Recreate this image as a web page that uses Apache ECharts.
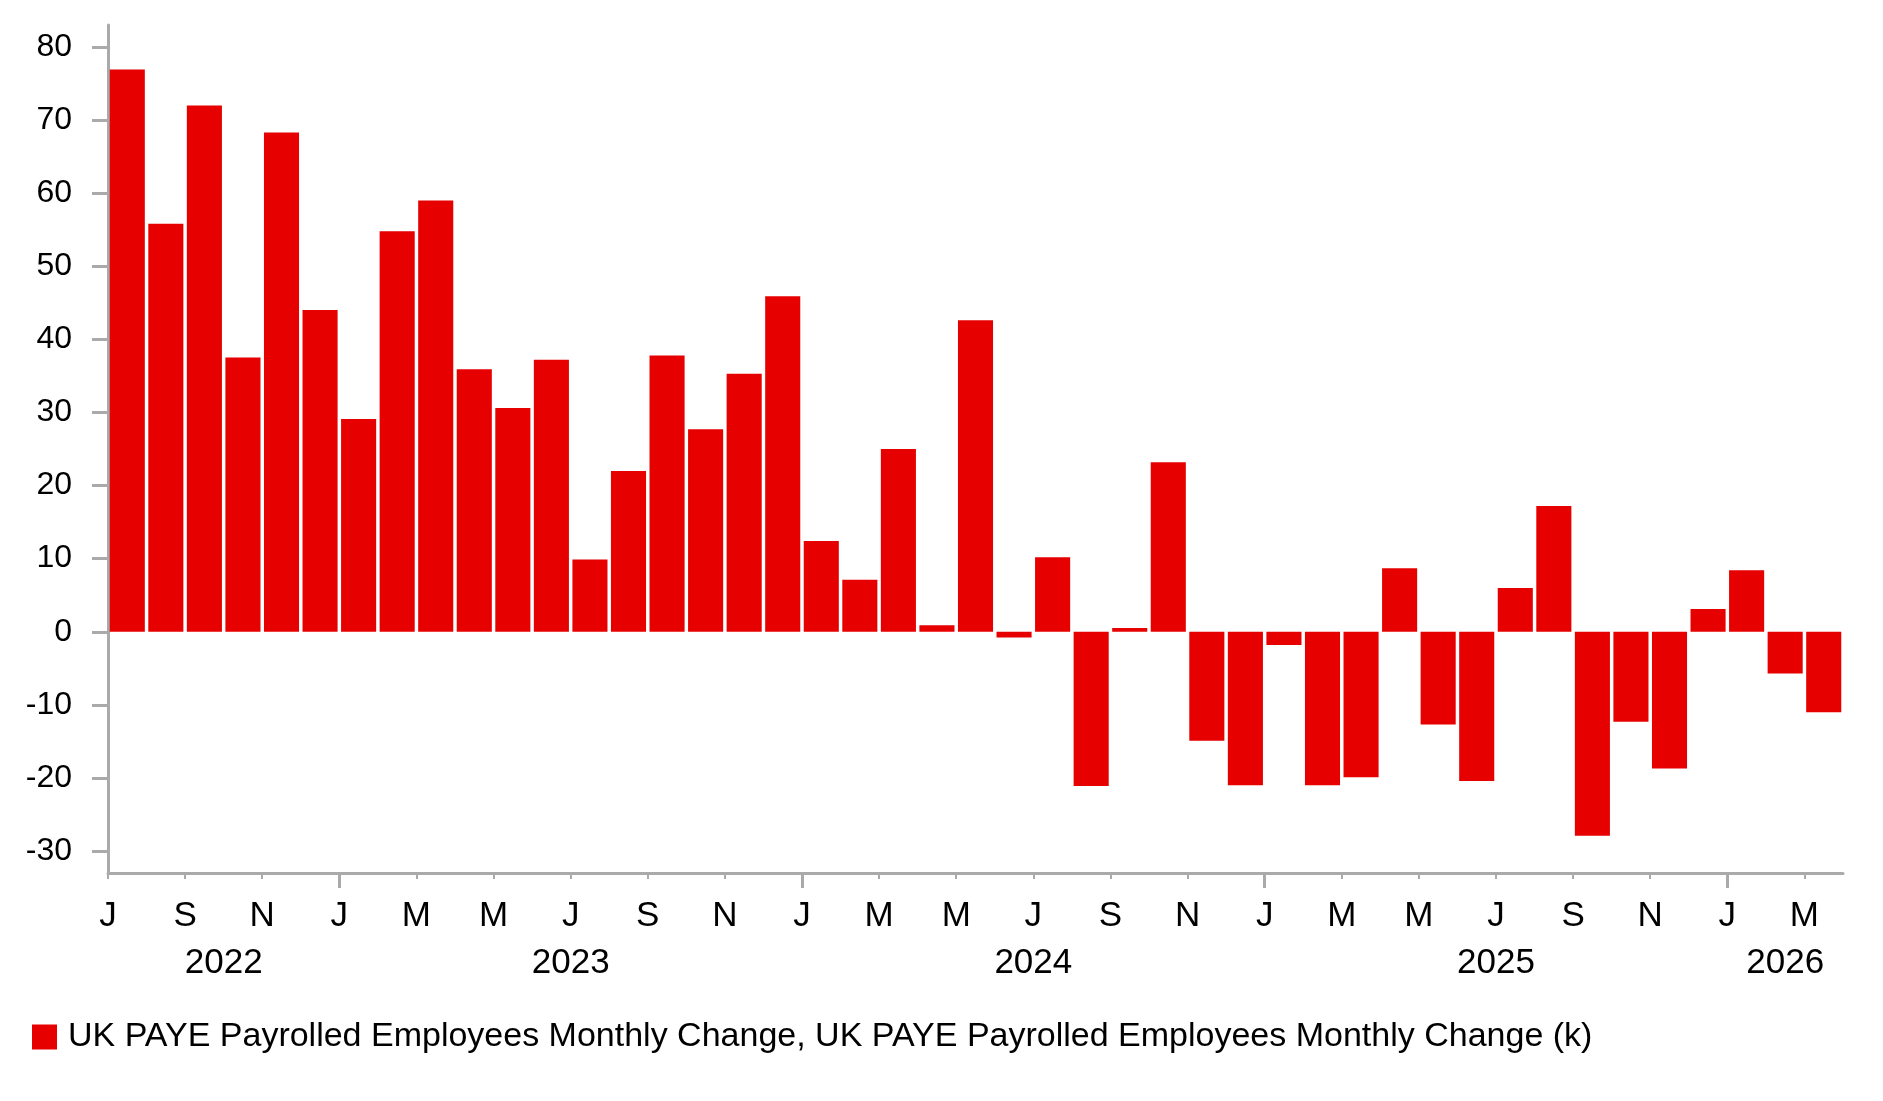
<!DOCTYPE html>
<html>
<head>
<meta charset="utf-8">
<script src="https://cdn.jsdelivr.net/npm/echarts@6/dist/echarts.min.js"></script>
<style>
html,body{margin:0;padding:0;background:#fff;}
#chart{width:1883px;height:1101px;}
</style>
</head>
<body>
<div id="chart"></div>
<script>
// ---- data ----
const months = [
  '2022-07','2022-08','2022-09','2022-10','2022-11','2022-12',
  '2023-01','2023-02','2023-03','2023-04','2023-05','2023-06',
  '2023-07','2023-08','2023-09','2023-10','2023-11','2023-12',
  '2024-01','2024-02','2024-03','2024-04','2024-05','2024-06',
  '2024-07','2024-08','2024-09','2024-10','2024-11','2024-12',
  '2025-01','2025-02','2025-03','2025-04','2025-05','2025-06',
  '2025-07','2025-08','2025-09','2025-10','2025-11','2025-12',
  '2026-01','2026-02','2026-03'
];
const payrollChange = [
  76.9, 55.8, 72.0, 37.5, 68.3, 44.0,
  29.1, 54.8, 59.0, 35.9, 30.6, 37.2,
  9.9, 22.0, 37.8, 27.7, 35.3, 45.9,
  12.4, 7.1, 25.0, 0.9, 42.6, -0.8,
  10.2, -21.1, 0.5, 23.2, -14.9, -21.0,
  -1.8, -21.0, -19.9, 8.7, -12.7, -20.4,
  6.0, 17.2, -27.9, -12.3, -18.7, 3.1,
  8.4, -5.7, -11.0
];
const monthTickLabels = ['J','S','N','J','M','M','J','S','N','J','M','M','J','S','N','J','M','M','J','S','N','J','M'];
const yearLabels = ['2022','2023','2024','2025','2026'];
const yTicks = [-30,-20,-10,0,10,20,30,40,50,60,70,80];
const seriesName = 'UK PAYE Payrolled Employees Monthly Change, UK PAYE Payrolled Employees Monthly Change (k)';

// ---- derived tick positions (month boundaries) ----
const evenIdx = [];
for (let i = 0; i < months.length; i += 2) evenIdx.push(i);
const janIdx = [];
months.forEach((m, i) => { if (m.endsWith('-01')) janIdx.push(i); });
const smallTickIdx = evenIdx.filter(i => janIdx.indexOf(i) < 0);
// year label centers: middle of each year's span of months
const yearCenters = yearLabels.map(y => {
  const idx = [];
  months.forEach((m, i) => { if (m.startsWith(y)) idx.push(i); });
  return (idx[0] + idx[idx.length - 1] + 1) / 2;
});

const FONT = '"Liberation Sans", Arial, sans-serif';
const GREY = '#aaaaaa';

const chart = echarts.init(document.getElementById('chart'), null, {renderer: 'canvas'});
chart.setOption({
  animation: false,
  backgroundColor: '#ffffff',
  textStyle: {fontFamily: FONT},
  grid: {left: 108, right: 40, top: 25, bottom: 228, containLabel: false},
  legend: {
    show: true,
    left: 32,
    top: 1020,
    padding: 0,
    itemWidth: 25,
    itemHeight: 25,
    icon: 'rect',
    textStyle: {fontFamily: FONT, fontSize: 34, color: '#000', padding: [0, 0, 0, 6]},
    data: [seriesName]
  },
  xAxis: [
    {
      type: 'category',
      data: months,
      boundaryGap: true,
      axisLine: {show: false},
      axisTick: {show: false},
      axisLabel: {show: false},
      splitLine: {show: false}
    },
    {
      type: 'value',
      min: 0,
      max: months.length,
      position: 'bottom',
      axisLine: {show: true, lineStyle: {color: GREY, width: 3}},
      axisTick: {show: true, customValues: smallTickIdx, length: 6, lineStyle: {color: GREY, width: 2}},
      axisLabel: {
        show: true,
        customValues: evenIdx,
        formatter: v => monthTickLabels[Math.round(v / 2)],
        fontFamily: FONT, fontSize: 35, color: '#000', margin: 26
      },
      splitLine: {show: false}
    },
    {
      type: 'value',
      min: 0,
      max: months.length,
      position: 'bottom',
      axisLine: {show: false},
      axisTick: {show: true, customValues: janIdx, length: 15, lineStyle: {color: GREY, width: 3}},
      axisLabel: {
        show: true,
        customValues: yearCenters,
        formatter: v => yearLabels[yearCenters.indexOf(v)],
        fontFamily: FONT, fontSize: 35, color: '#000', margin: 73
      },
      splitLine: {show: false}
    }
  ],
  yAxis: {
    type: 'value',
    min: -33,
    max: 83,
    axisLine: {show: true, lineStyle: {color: GREY, width: 3}},
    axisTick: {show: true, customValues: yTicks, length: 16, lineStyle: {color: GREY, width: 3}},
    axisLabel: {show: true, customValues: yTicks, fontFamily: FONT, fontSize: 32, color: '#000', margin: 36},
    splitLine: {show: false}
  },
  series: [{
    name: seriesName,
    type: 'bar',
    xAxisIndex: 0,
    data: payrollChange,
    barCategoryGap: '9%',
    itemStyle: {color: '#e60000'}
  }]
});
</script>
</body>
</html>
